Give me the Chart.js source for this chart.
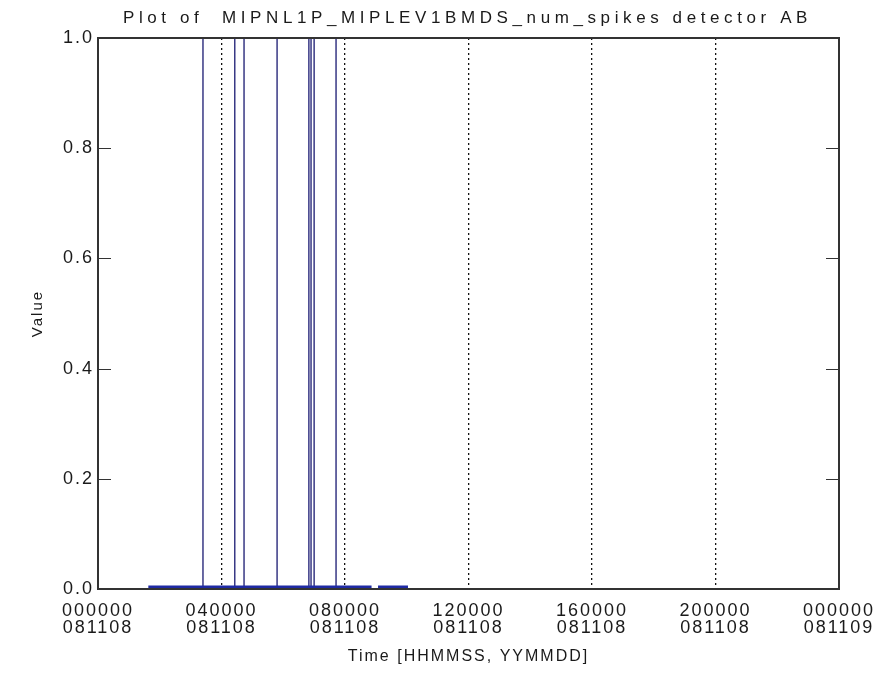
<!DOCTYPE html>
<html>
<head>
<meta charset="utf-8">
<script src="https://cdn.jsdelivr.net/npm/chart.js@4"></script>
<style>
  html, body { margin: 0; padding: 0; background: #fff; }
  #wrap { width: 889px; height: 685px; }
</style>
</head>
<body>
<div id="wrap"><canvas id="spikes-canvas"></canvas></div>
<script>
// data (x in hours since 000000 081108)
const spikeHours = [3.40, 4.43, 4.73, 5.80, 6.83, 6.90, 7.00, 7.71];
const spikeValue = 1.0;
const baselineStarts = [1.63, 9.07];
const baselineEnds = [8.86, 10.04];
const baselineValue = 0.0;
const xTickTimes = ["000000", "040000", "080000", "120000", "160000", "200000", "000000"];
const xTickDates = ["081108", "081108", "081108", "081108", "081108", "081108", "081109"];
const yTickValues = [0.0, 0.2, 0.4, 0.6, 0.8, 1.0];
const plotTitle = "Plot of  MIPNL1P_MIPLEV1BMDS_num_spikes detector AB";

// build line points, null breaks between pieces
const spikePoints = [];
spikeHours.forEach((h) => {
  spikePoints.push({ x: h, y: baselineValue }, { x: h, y: spikeValue }, { x: h, y: null });
});

const baselinePoints = [];
baselineStarts.forEach((s, i) => {
  baselinePoints.push({ x: s, y: baselineValue }, { x: baselineEnds[i], y: baselineValue }, { x: baselineEnds[i], y: null });
});

const fontFamily = "'Liberation Sans', Arial, sans-serif";
const textColor = "#1a1a1a";

// the old plot font is wide, so space the letters out a bit
const letterSpacing = {
  id: "letterSpacing",
  beforeDraw(chart) {
    chart.ctx.letterSpacing = "2px";
  },
};

// frame round the plot, inward y ticks on both sides, and the title
const frameAndTicks = {
  id: "frameAndTicks",
  afterDraw(chart) {
    const { ctx, chartArea } = chart;
    const y = chart.scales.y;
    ctx.save();
    ctx.strokeStyle = "#333";
    ctx.lineWidth = 2;
    ctx.strokeRect(chartArea.left, chartArea.top, chartArea.right - chartArea.left, chartArea.bottom - chartArea.top);
    ctx.lineWidth = 1.2;
    yTickValues.forEach((v) => {
      const py = Math.round(y.getPixelForValue(v)) + 0.5;
      ctx.beginPath();
      ctx.moveTo(chartArea.left, py);
      ctx.lineTo(chartArea.left + 13, py);
      ctx.moveTo(chartArea.right, py);
      ctx.lineTo(chartArea.right - 13, py);
      ctx.stroke();
    });
    ctx.fillStyle = textColor;
    ctx.font = "17px " + fontFamily;
    ctx.letterSpacing = "4.6px";
    ctx.textAlign = "center";
    ctx.textBaseline = "middle";
    ctx.fillText(plotTitle, (chartArea.left + chartArea.right) / 2 - 1, 18);
    ctx.restore();
  },
};

new Chart(document.getElementById("spikes-canvas"), {
  type: "line",
  data: {
    datasets: [
      {
        label: "baseline",
        data: baselinePoints,
        borderColor: "#1f2aa3",
        borderWidth: 7,
        pointRadius: 0,
        spanGaps: false,
        clip: 0,
      },
      {
        label: "num_spikes",
        data: spikePoints,
        borderColor: "#2a2a7c",
        borderWidth: 1.4,
        pointRadius: 0,
        spanGaps: false,
      },
    ],
  },
  options: {
    responsive: true,
    maintainAspectRatio: false,
    animation: false,
    layout: {
      padding: { left: 0, right: 50, top: 38, bottom: 0 },
    },
    scales: {
      x: {
        type: "linear",
        min: 0,
        max: 24,
        afterFit: (scale) => {
          scale.height = 96;
        },
        afterBuildTicks: (scale) => {
          scale.ticks = xTickTimes.map((t, i) => ({ value: i * 4 }));
        },
        ticks: {
          autoSkip: false,
          maxRotation: 0,
          padding: 14,
          color: textColor,
          font: { family: fontFamily, size: 18, lineHeight: 17 / 18 },
          callback: (value, index) => [xTickTimes[index], xTickDates[index]],
        },
        grid: {
          drawTicks: false,
          color: (ctx) => (ctx.tick && (ctx.tick.value === 0 || ctx.tick.value === 24) ? "rgba(0,0,0,0)" : "#111"),
          lineWidth: 1.3,
        },
        border: {
          color: "#333",
          width: 2,
          dash: [2, 3],
        },
        title: {
          display: true,
          text: "Time [HHMMSS, YYMMDD]",
          color: textColor,
          font: { family: fontFamily, size: 16 },
          padding: { top: 0, bottom: 18.4 },
        },
      },
      y: {
        min: 0,
        max: 1,
        afterFit: (scale) => {
          scale.width = 98;
        },
        afterBuildTicks: (scale) => {
          scale.ticks = yTickValues.map((v) => ({ value: v }));
        },
        ticks: {
          padding: 4,
          color: textColor,
          font: { family: fontFamily, size: 18 },
          callback: (value) => Number(value).toFixed(1),
        },
        grid: {
          display: false,
          drawTicks: false,
        },
        border: {
          color: "#333",
          width: 2,
        },
        title: {
          display: true,
          text: "Value",
          color: textColor,
          font: { family: fontFamily, size: 15 },
          padding: { top: 28.5, bottom: 0 },
        },
      },
    },
    plugins: {
      legend: { display: false },
      tooltip: { enabled: false },
      title: { display: false },
    },
  },
  plugins: [letterSpacing, frameAndTicks],
});
</script>
</body>
</html>
